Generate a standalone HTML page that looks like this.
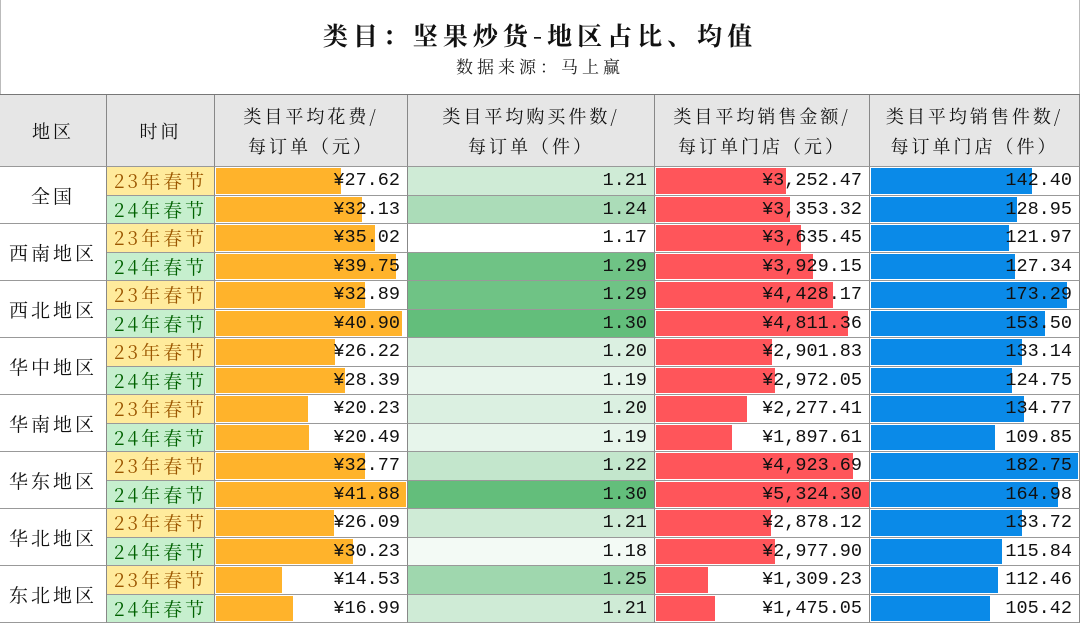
<!DOCTYPE html>
<html><head><meta charset="utf-8"><style>
*{margin:0;padding:0;box-sizing:border-box}
body{width:1080px;height:622px;background:#fff;font-family:"Liberation Mono","Noto Serif CJK SC",serif;color:#111;overflow:hidden;position:relative}
.t1{position:absolute;top:17px;left:0;width:1080px;text-align:center;font-size:25px;font-weight:bold;font-family:"Noto Serif CJK SC",serif;letter-spacing:5px}
.t2{position:absolute;top:53px;left:0;width:1080px;text-align:center;font-size:17px;font-family:"Noto Serif CJK SC",serif;letter-spacing:4px;color:#222}
.frame{position:absolute;left:0;top:0;width:1080px;height:94px;border-left:1px solid #bbb;border-right:1px solid #bbb}
.g{position:absolute;left:0;top:94px;width:1080px;height:528px;display:grid;grid-template-columns:107px 108px 193px 247px 215px 210px;grid-template-rows:72px repeat(16,28.5px);border-top:1px solid #777}
.g>div{border-right:1px solid #888;border-bottom:1px solid #999;position:relative;font-size:18px;display:flex;align-items:center;white-space:nowrap}
.h{background:#e6e6e6;justify-content:center;text-align:center;font-family:"Noto Serif CJK SC",serif;line-height:30px;letter-spacing:3px;font-size:18px}
.r{grid-row:span 2;justify-content:center;font-family:"Noto Serif CJK SC",serif;letter-spacing:3px;font-size:19px!important}
.y{background:#ffeb9c;color:#9c5700;justify-content:center;font-family:"Noto Serif CJK SC",serif;letter-spacing:3px;font-size:19px!important}
.n{background:#c6efce;color:#006100;justify-content:center;font-family:"Noto Serif CJK SC",serif;letter-spacing:3px;font-size:19px!important}
.v{justify-content:flex-end;padding-right:7px;font-size:18.5px!important}
.v span{position:relative;z-index:1}
.b{position:absolute;left:1px;top:1px;bottom:1px}
.o{background:#ffb32b}.rd{background:#ff555a}.bl{background:#0a8ae8}
</style></head><body>
<div class="frame"></div>
<div class="t1">类目：坚果炒货-地区占比、均值</div>
<div class="t2">数据来源：马上赢</div>
<div class="g">
<div class="h">地区</div><div class="h">时间</div><div class="h">类目平均花费/<br>每订单（元）</div><div class="h">类目平均购买件数/<br>每订单（件）</div><div class="h">类目平均销售金额/<br>每订单门店（元）</div><div class="h">类目平均销售件数/<br>每订单门店（件）</div>

<div class="r">全国</div><div class="y">23年春节</div><div class="v"><i class="b o" style="width:125px"></i><span>¥27.62</span></div><div class="v" style="background:rgb(207,235,214)"><span>1.21</span></div><div class="v"><i class="b rd" style="width:130px"></i><span>¥3,252.47</span></div><div class="v"><i class="b bl" style="width:161px"></i><span>142.40</span></div>
<div class="n">24年春节</div><div class="v"><i class="b o" style="width:146px"></i><span>¥32.13</span></div><div class="v" style="background:rgb(171,220,184)"><span>1.24</span></div><div class="v"><i class="b rd" style="width:134px"></i><span>¥3,353.32</span></div><div class="v"><i class="b bl" style="width:146px"></i><span>128.95</span></div>

<div class="r">西南地区</div><div class="y">23年春节</div><div class="v"><i class="b o" style="width:159px"></i><span>¥35.02</span></div><div class="v" style="background:#fff"><span>1.17</span></div><div class="v"><i class="b rd" style="width:145px"></i><span>¥3,635.45</span></div><div class="v"><i class="b bl" style="width:138px"></i><span>121.97</span></div>
<div class="n">24年春节</div><div class="v"><i class="b o" style="width:180px"></i><span>¥39.75</span></div><div class="v" style="background:rgb(111,195,133)"><span>1.29</span></div><div class="v"><i class="b rd" style="width:157px"></i><span>¥3,929.15</span></div><div class="v"><i class="b bl" style="width:144px"></i><span>127.34</span></div>

<div class="r">西北地区</div><div class="y">23年春节</div><div class="v"><i class="b o" style="width:149px"></i><span>¥32.89</span></div><div class="v" style="background:rgb(111,195,133)"><span>1.29</span></div><div class="v"><i class="b rd" style="width:177px"></i><span>¥4,428.17</span></div><div class="v"><i class="b bl" style="width:196px"></i><span>173.29</span></div>
<div class="n">24年春节</div><div class="v"><i class="b o" style="width:186px"></i><span>¥40.90</span></div><div class="v" style="background:rgb(99,190,123)"><span>1.30</span></div><div class="v"><i class="b rd" style="width:192px"></i><span>¥4,811.36</span></div><div class="v"><i class="b bl" style="width:174px"></i><span>153.50</span></div>

<div class="r">华中地区</div><div class="y">23年春节</div><div class="v"><i class="b o" style="width:119px"></i><span>¥26.22</span></div><div class="v" style="background:rgb(219,240,225)"><span>1.20</span></div><div class="v"><i class="b rd" style="width:116px"></i><span>¥2,901.83</span></div><div class="v"><i class="b bl" style="width:151px"></i><span>133.14</span></div>
<div class="n">24年春节</div><div class="v"><i class="b o" style="width:129px"></i><span>¥28.39</span></div><div class="v" style="background:rgb(231,245,235)"><span>1.19</span></div><div class="v"><i class="b rd" style="width:119px"></i><span>¥2,972.05</span></div><div class="v"><i class="b bl" style="width:141px"></i><span>124.75</span></div>

<div class="r">华南地区</div><div class="y">23年春节</div><div class="v"><i class="b o" style="width:92px"></i><span>¥20.23</span></div><div class="v" style="background:rgb(219,240,225)"><span>1.20</span></div><div class="v"><i class="b rd" style="width:91px"></i><span>¥2,277.41</span></div><div class="v"><i class="b bl" style="width:153px"></i><span>134.77</span></div>
<div class="n">24年春节</div><div class="v"><i class="b o" style="width:93px"></i><span>¥20.49</span></div><div class="v" style="background:rgb(231,245,235)"><span>1.19</span></div><div class="v"><i class="b rd" style="width:76px"></i><span>¥1,897.61</span></div><div class="v"><i class="b bl" style="width:124px"></i><span>109.85</span></div>

<div class="r">华东地区</div><div class="y">23年春节</div><div class="v"><i class="b o" style="width:149px"></i><span>¥32.77</span></div><div class="v" style="background:rgb(195,230,204)"><span>1.22</span></div><div class="v"><i class="b rd" style="width:197px"></i><span>¥4,923.69</span></div><div class="v"><i class="b bl" style="width:207px"></i><span>182.75</span></div>
<div class="n">24年春节</div><div class="v"><i class="b o" style="width:190px"></i><span>¥41.88</span></div><div class="v" style="background:rgb(99,190,123)"><span>1.30</span></div><div class="v"><i class="b rd" style="width:213px"></i><span>¥5,324.30</span></div><div class="v"><i class="b bl" style="width:187px"></i><span>164.98</span></div>

<div class="r">华北地区</div><div class="y">23年春节</div><div class="v"><i class="b o" style="width:118px"></i><span>¥26.09</span></div><div class="v" style="background:rgb(207,235,214)"><span>1.21</span></div><div class="v"><i class="b rd" style="width:115px"></i><span>¥2,878.12</span></div><div class="v"><i class="b bl" style="width:151px"></i><span>133.72</span></div>
<div class="n">24年春节</div><div class="v"><i class="b o" style="width:137px"></i><span>¥30.23</span></div><div class="v" style="background:rgb(243,250,245)"><span>1.18</span></div><div class="v"><i class="b rd" style="width:119px"></i><span>¥2,977.90</span></div><div class="v"><i class="b bl" style="width:131px"></i><span>115.84</span></div>

<div class="r">东北地区</div><div class="y">23年春节</div><div class="v"><i class="b o" style="width:66px"></i><span>¥14.53</span></div><div class="v" style="background:rgb(159,215,174)"><span>1.25</span></div><div class="v"><i class="b rd" style="width:52px"></i><span>¥1,309.23</span></div><div class="v"><i class="b bl" style="width:127px"></i><span>112.46</span></div>
<div class="n">24年春节</div><div class="v"><i class="b o" style="width:77px"></i><span>¥16.99</span></div><div class="v" style="background:rgb(207,235,214)"><span>1.21</span></div><div class="v"><i class="b rd" style="width:59px"></i><span>¥1,475.05</span></div><div class="v"><i class="b bl" style="width:119px"></i><span>105.42</span></div>
</div>
</body></html>
